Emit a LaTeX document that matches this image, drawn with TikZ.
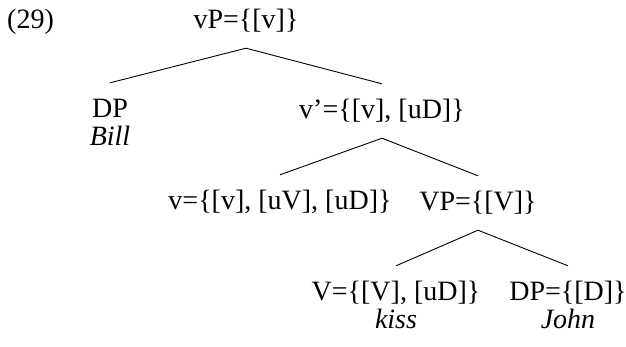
\documentclass[tikz,border=0pt]{standalone}
\usepackage{fontspec}
\setmainfont{Liberation Serif}
\usetikzlibrary{positioning}
\tikzset{
  num/.style={anchor=base west, inner sep=0pt, font=\fontsize{28}{30}\selectfont},
  cat/.style={anchor=base, inner sep=0pt, text height=34pt, text depth=20pt,
              font=\fontsize{28}{30}\selectfont},
  lex/.style={anchor=base, inner sep=0pt, font=\fontsize{28}{30}\selectfont\itshape},
  branch/.style={draw=black, line width=0.9pt},
}

\begin{document}
\begin{tikzpicture}[x=1pt, y=-1pt]
    \useasboundingbox (0,0) rectangle (626,346);
    % example number
    \node[num] (ex) at (7,28) {(29)};
    % categories
    \node[cat] (vP) at (246,28) {vP=\{[v]\}};
    \node[cat] (DPa) at (110,117) {DP};
    \node[cat] (vbar) at (382,118) {v'=\{[v], [uD]\}};
    \node[cat] (v) at (280,209) {v=\{[v], [uV], [uD]\}};
    \node[cat] (VP) at (478,210) {VP=\{[V]\}};
    \node[cat] (V) at (396,300) {V=\{[V], [uD]\}};
    \node[cat] (DPb) at (568,300) {DP=\{[D]\}};
    % words
    \node[lex] (bill) at (110,145) {Bill};
    \node[lex] (kiss) at (396,328) {kiss};
    \node[lex] (john) at (568,328) {John};
    % branches
    \foreach \p/\c in {vP/DPa, vP/vbar, vbar/v, vbar/VP, VP/V, VP/DPb}
      \draw[branch] (\p.south) -- (\c.north);
\end{tikzpicture}
\end{document}
